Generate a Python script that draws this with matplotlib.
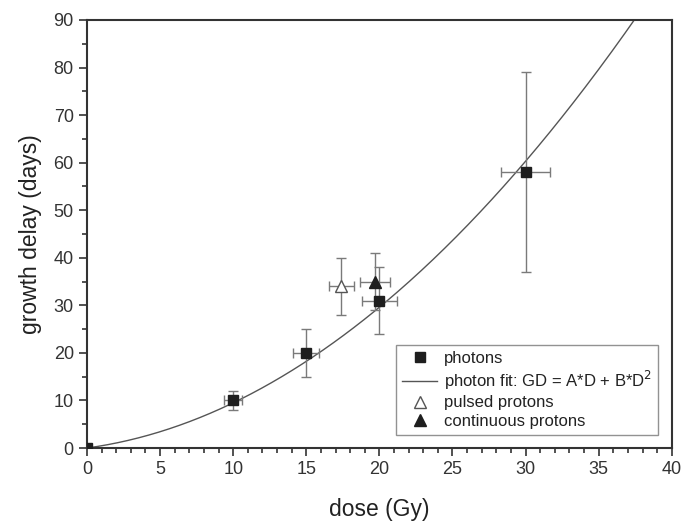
import numpy as np
import matplotlib.pyplot as plt
import matplotlib
from matplotlib.ticker import MultipleLocator
from matplotlib.lines import Line2D

matplotlib.rcParams['font.family'] = ['Liberation Sans', 'DejaVu Sans']

# ─── Data ───
photon_dose = [0, 10, 15, 20, 30]
photon_gd = [0, 10, 20, 31, 58]
photon_xerr = [0, 0.6, 0.9, 1.2, 1.7]
photon_yerr = [0, 2, 5, 7, 21]

pulsed_dose = [17.4]
pulsed_gd = [34]
pulsed_xerr = [0.85]
pulsed_yerr = [6]

cont_dose = [19.7]
cont_gd = [35]
cont_xerr = [1.0]
cont_yerr = [6]

# fit parameters GD = A*D + B*D^2
A_fit = 0.42
B_fit = 0.053

fig = plt.figure(figsize=(6.82, 5.23), dpi=100)
ax = fig.add_axes([0.1276, 0.1434, 0.8574, 0.8184])

err_col = '#7a7a7a'
mk_col = '#1e1e1e'
fit_col = '#555555'

d_fit = np.linspace(0, 40, 400)
ax.plot(d_fit, A_fit * d_fit + B_fit * d_fit**2, color=fit_col, linewidth=1.0, zorder=2)

ax.errorbar(photon_dose, photon_gd, xerr=photon_xerr, yerr=photon_yerr, fmt='s',
            color=mk_col, ecolor=err_col, elinewidth=1.0, capsize=3.5, capthick=1.0,
            markersize=7, zorder=3)
ax.errorbar(pulsed_dose, pulsed_gd, xerr=pulsed_xerr, yerr=pulsed_yerr, fmt='^',
            markerfacecolor='white', markeredgecolor='#555555', color='#555555',
            ecolor=err_col, elinewidth=1.0, capsize=3.5, capthick=1.0,
            markersize=8.5, zorder=3)
ax.errorbar(cont_dose, cont_gd, xerr=cont_xerr, yerr=cont_yerr, fmt='^',
            color=mk_col, ecolor=err_col, elinewidth=1.0, capsize=3.5, capthick=1.0,
            markersize=8.5, zorder=3)

ax.set_xlim(0, 40)
ax.set_ylim(0, 90)
ax.xaxis.set_major_locator(MultipleLocator(5))
ax.xaxis.set_minor_locator(MultipleLocator(1))
ax.yaxis.set_major_locator(MultipleLocator(10))
ax.yaxis.set_minor_locator(MultipleLocator(5))
ax.tick_params(which='both', direction='out', top=False, right=False,
               colors='#333333', labelcolor='#333333', width=1.2)
ax.tick_params(which='major', length=6, labelsize=13)
ax.tick_params(which='minor', length=3.5)
for s in ax.spines.values():
    s.set_linewidth(1.5)
    s.set_color('#333333')

ax.set_xlabel('dose (Gy)', fontsize=16.5, color='#222222', labelpad=14)
ax.set_ylabel('growth delay (days)', fontsize=16.5, color='#222222', labelpad=8)

handles = [
    Line2D([], [], linestyle='none', marker='s', color=mk_col, markersize=7),
    Line2D([], [], color=fit_col, linewidth=1.0),
    Line2D([], [], linestyle='none', marker='^', markerfacecolor='white',
           markeredgecolor='#555555', markersize=8.5),
    Line2D([], [], linestyle='none', marker='^', color=mk_col, markersize=8.5),
]
labels = ['photons', r'photon fit: GD = A*D + B*D$^2$', 'pulsed protons',
          'continuous protons']
leg = ax.legend(handles, labels, loc='lower right', bbox_to_anchor=(0.99, 0.012),
                fontsize=12, frameon=True, fancybox=False, edgecolor='#777777',
                handlelength=2.1, labelspacing=0.2, borderpad=0.35,
                handletextpad=0.4)
leg.get_frame().set_linewidth(1.0)
for t in leg.get_texts():
    t.set_color('#222222')

plt.savefig('out.png', dpi=100, facecolor='white')
plt.close()
